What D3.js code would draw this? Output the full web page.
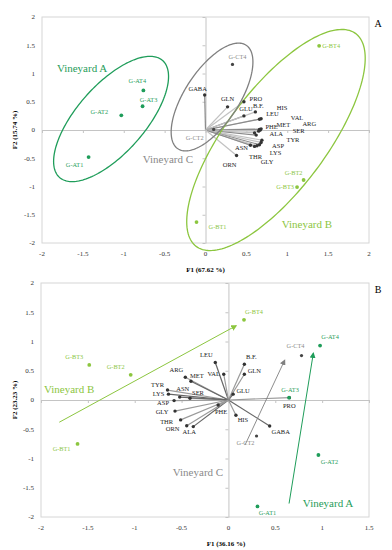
<!DOCTYPE html>
<html>
<head>
<meta charset="utf-8">
<script src="https://cdn.jsdelivr.net/npm/d3@7"></script>
<style>
  body { margin: 0; background: #fff; }
  svg text { font-family: "Liberation Serif", "DejaVu Serif", serif; }
</style>
</head>
<body>
<div id="chart"></div>
<script>
// ---- data ----
var ticksA_x = [-2, -1.5, -1, -0.5, 0, 0.5, 1, 1.5, 2];
var ticksA_y = [-2, -1.5, -1, -0.5, 0, 0.5, 1, 1.5, 2];
var ticksB_x = [-2, -1.5, -1, -0.5, 0, 0.5, 1, 1.5];
var ticksB_y = [-2, -1.5, -1, -0.5, 0, 0.5, 1, 1.5, 2];

var varNames = ["GABA", "GLN", "PRO", "GLU", "B.F.", "HIS", "LEU", "VAL", "ARG", "MET",
                "SER", "PHE", "ALA", "TYR", "ASP", "LYS", "GLY", "THR", "ASN", "ORN"];
var varA_f1 = [-0.01, 0.27, 0.47, 0.47, 0.61, 0.68, 0.66, 0.68, 0.67, 0.66,
               0.65, 0.60, 0.62, 0.69, 0.68, 0.66, 0.63, 0.60, 0.55, 0.38];
var varA_f2 = [0.62, 0.41, 0.50, 0.25, 0.32, 0.20, 0.19, 0.02, 0.00, 0.01,
               -0.02, -0.05, -0.09, -0.18, -0.22, -0.26, -0.28, -0.29, -0.27, -0.45];
var varB_f1 = [0.44, 0.17, 0.65, 0.05, 0.17, 0.08, -0.14, -0.05, -0.46, -0.40,
               -0.41, -0.11, -0.375, -0.65, -0.58, -0.64, -0.57, -0.51, -0.52, -0.445];
var varB_f2 = [-0.445, 0.44, 0.04, 0.10, 0.61, -0.26, 0.64, 0.44, 0.39, 0.32,
               0.03, -0.085, -0.455, 0.17, -0.01, 0.10, -0.19, -0.34, 0.05, -0.44];

var obsNames = ["G-AT1", "G-AT2", "G-AT3", "G-AT4", "G-BT1", "G-BT2", "G-BT3", "G-BT4", "G-CT2", "G-CT4"];
var obsGroup = ["A", "A", "A", "A", "B", "B", "B", "B", "C", "C"];
var obsA_f1 = [-1.43, -1.03, -0.77, -0.76, -0.11, 1.20, 1.12, 1.39, 0.10, 0.33];
var obsA_f2 = [-0.48, 0.26, 0.42, 0.70, -1.63, -0.885, -1.01, 1.49, 0.01, 1.16];
var obsB_f1 = [0.31, 0.96, 0.647, 0.978, -1.61, -1.043, -1.485, 0.166, 0.30, 0.78];
var obsB_f2 = [-1.82, -0.94, 0.04, 0.93, -0.75, 0.43, 0.60, 1.37, -0.615, 0.76];

// vineyard ellipses (panel A): centre and two semi-axis vectors, in F1/F2 units
var groupNames = ["A", "B", "C"];
var ellCenter = [[-1.155, 0.195], [0.862, -0.177], [0.08, 0.584]];
var ellAxisU = [[0.63, 1.035], [0.976, 1.883], [0.417, 0.917]];
var ellAxisV = [[0.312, -0.397], [0.489, -0.531], [0.276, -0.263]];
var groupLabelA = [[-1.51, 1.10], [1.24, -1.66], [-0.46, -0.51]];

// vineyard arrows (panel B)
var arrowFrom = [[0.647, -1.77], [-1.805, -0.38], [0.177, -0.77]];
var arrowTo = [[0.906, 0.80], [0.082, 1.27], [0.60, 0.68]];
var groupLabelB = [[1.063, -1.755], [-1.70, 0.19], [-0.325, -1.23]];

// ---- label nudges (pixels) ----
var varNudgeA = [[-7,-6],[0,-8],[12,-3],[2,-7],[3,-6.5],[21,-11],[13,-6],[36,-11],[49,-6.5],[24,-5],
                 [40,-0.5],[17,-6],[20,-1],[31,0],[17,3],[16,8],[10,16],[1,10],[-9,2],[-7,9]];
var varNudgeB = [[11,6],[10,-4],[0,8],[10,-3],[7,-8],[7,5],[-9,-8],[-10,-1],[-9,-7],[6,-6],
                 [8,-6],[3,7],[-4,5],[-10,-5],[-11,2],[-10,0],[-13,1],[-14,2],[3,-8],[-14,3]];
var obsNudgeA = [[-14,8],[-22,-4],[6,-6],[-6,-10],[21,5],[-10,-7],[-12,0],[12,0],[-19,8],[5,-8]];
var obsNudgeB = [[10,6],[11,7],[1,-8],[10,-9],[-16,5],[-15,-8],[-15,-8],[10,-8],[-11,7],[-6,-10]];

var colors = { A: "#1f9d5a", B: "#8cc63f", C: "#808080" };
var textColors = { A: "#1f9d5a", B: "#8cc63f", C: "#8a8a8a" };

var svg = d3.select("#chart").append("svg")
    .attr("width", 392)
    .attr("height", 550);

var defs = svg.append("defs");
groupNames.forEach(function(g) {
    defs.append("marker")
        .attr("id", "arrow" + g)
        .attr("viewBox", "0 0 10 10")
        .attr("refX", 8).attr("refY", 5)
        .attr("markerWidth", 6).attr("markerHeight", 6)
        .attr("markerUnits", "userSpaceOnUse")
        .attr("orient", "auto")
        .append("path")
        .attr("d", "M0,0 L10,5 L0,10 z")
        .attr("fill", colors[g]);
});

function drawPanel(p) {
    var x = d3.scaleLinear().domain(p.xDomain).range([p.left, p.right]);
    var y = d3.scaleLinear().domain([-2, 2]).range([p.bottom, p.top]);
    var g = svg.append("g");

    // frame
    g.append("rect")
        .attr("x", p.left).attr("y", p.top)
        .attr("width", p.right - p.left).attr("height", p.bottom - p.top)
        .attr("fill", "none").attr("stroke", "#d6d6d6").attr("stroke-width", 1);

    // zero lines with small ticks
    var ax0 = g.append("g").attr("transform", "translate(" + x(0) + ",0)")
        .call(d3.axisLeft(y).tickValues(p.yTicks).tickSize(3).tickSizeOuter(0).tickFormat(""));
    var ay0 = g.append("g").attr("transform", "translate(0," + y(0) + ")")
        .call(d3.axisBottom(x).tickValues(p.xTicks).tickSize(3).tickSizeOuter(0).tickFormat(""));
    [ax0, ay0].forEach(function(a) {
        a.selectAll("path,line").attr("stroke", "#c4c4c4");
    });

    // tick labels
    g.selectAll(".yt").data(p.yTicks).enter().append("text")
        .attr("x", p.left - 7).attr("y", function(d) { return y(d); })
        .attr("dy", "0.35em").attr("text-anchor", "end")
        .attr("font-size", 7).attr("fill", "#333")
        .text(function(d) { return d; });
    g.selectAll(".xt").data(p.xTicks).enter().append("text")
        .attr("x", function(d) { return x(d); }).attr("y", p.bottom + 13)
        .attr("text-anchor", "middle")
        .attr("font-size", 7).attr("fill", "#333")
        .text(function(d) { return d; });

    // axis titles
    g.append("text")
        .attr("x", (p.left + p.right) / 2 + p.titleShift).attr("y", p.bottom + 29)
        .attr("text-anchor", "middle").attr("font-size", 7).attr("font-weight", "bold")
        .text(p.xTitle);
    g.append("text")
        .attr("transform", "translate(17," + ((p.top + p.bottom) / 2) + ") rotate(-90)")
        .attr("text-anchor", "middle").attr("font-size", 7).attr("font-weight", "bold")
        .text(p.yTitle);
    g.append("text")
        .attr("x", 378).attr("y", p.top + 10)
        .attr("text-anchor", "middle").attr("font-size", 10)
        .text(p.letter);

    // variable vectors
    var vars = varNames.map(function(n, i) {
        return { name: n, f1: p.vf1[i], f2: p.vf2[i], nudge: p.vNudge[i] };
    });
    g.selectAll(".vline").data(vars).enter().append("line")
        .attr("x1", x(0)).attr("y1", y(0))
        .attr("x2", function(d) { return x(d.f1); })
        .attr("y2", function(d) { return y(d.f2); })
        .attr("stroke", function(d, i) { return i % 3 == 0 ? p.lineDark : p.lineLight; })
        .attr("stroke-width", 1.2);

    p.extra(g, x, y);

    g.selectAll(".vdot").data(vars).enter().append("circle")
        .attr("cx", function(d) { return x(d.f1); })
        .attr("cy", function(d) { return y(d.f2); })
        .attr("r", 1.7).attr("fill", "#333");
    g.selectAll(".vlab").data(vars).enter().append("text")
        .attr("x", function(d) { return x(d.f1) + d.nudge[0]; })
        .attr("y", function(d) { return y(d.f2) + d.nudge[1]; })
        .attr("dy", "0.35em").attr("text-anchor", "middle")
        .attr("font-size", 6.5).attr("fill", "#222")
        .text(function(d) { return d.name; });

    // observations
    var obs = obsNames.map(function(n, i) {
        return { name: n, grp: obsGroup[i], f1: p.of1[i], f2: p.of2[i], nudge: p.oNudge[i] };
    });
    g.selectAll(".odot").data(obs).enter().append("circle")
        .attr("cx", function(d) { return x(d.f1); })
        .attr("cy", function(d) { return y(d.f2); })
        .attr("r", function(d) { return d.grp == "C" ? 1.6 : 1.9; })
        .attr("fill", function(d) { return d.grp == "C" ? "#444" : colors[d.grp]; });
    g.selectAll(".olab").data(obs).enter().append("text")
        .attr("x", function(d) { return x(d.f1) + d.nudge[0]; })
        .attr("y", function(d) { return y(d.f2) + d.nudge[1]; })
        .attr("dy", "0.35em").attr("text-anchor", "middle")
        .attr("font-size", 6.3)
        .attr("fill", function(d) { return textColors[d.grp]; })
        .text(function(d) { return d.name; });
}

// panel A: ellipses
drawPanel({
    left: 42, right: 369, top: 17, bottom: 243,
    xDomain: [-2, 2], xTicks: ticksA_x, yTicks: ticksA_y,
    xTitle: "F1 (67.62 %)", yTitle: "F2 (15.74 %)", letter: "A", titleShift: 0,
    vf1: varA_f1, vf2: varA_f2, vNudge: varNudgeA,
    of1: obsA_f1, of2: obsA_f2, oNudge: obsNudgeA,
    lineDark: "#8a8a8a", lineLight: "#c2c2c2",
    extra: function(g, x, y) {
        var ts = d3.range(0, 2 * Math.PI + 0.01, Math.PI / 90);
        var line = d3.line().x(function(d) { return x(d[0]); }).y(function(d) { return y(d[1]); });
        groupNames.forEach(function(gn, i) {
            var c = ellCenter[i], u = ellAxisU[i], v = ellAxisV[i];
            var pts = ts.map(function(t) {
                return [c[0] + Math.cos(t) * u[0] + Math.sin(t) * v[0],
                        c[1] + Math.cos(t) * u[1] + Math.sin(t) * v[1]];
            });
            g.append("path").attr("d", line(pts))
                .attr("fill", "none").attr("stroke", colors[gn]).attr("stroke-width", 1.3);
            g.append("text")
                .attr("x", x(groupLabelA[i][0])).attr("y", y(groupLabelA[i][1]))
                .attr("dy", "0.35em").attr("text-anchor", "middle")
                .attr("font-size", 11).attr("fill", textColors[gn])
                .text("Vineyard " + gn);
        });
    }
});

// panel B: arrows
drawPanel({
    left: 41, right: 369, top: 283, bottom: 517,
    xDomain: [-2, 1.5], xTicks: ticksB_x, yTicks: ticksB_y,
    xTitle: "F1 (36.16 %)", yTitle: "F2 (23.23 %)", letter: "B", titleShift: 21,
    vf1: varB_f1, vf2: varB_f2, vNudge: varNudgeB,
    of1: obsB_f1, of2: obsB_f2, oNudge: obsNudgeB,
    lineDark: "#666", lineLight: "#9a9a9a",
    extra: function(g, x, y) {
        groupNames.forEach(function(gn, i) {
            g.append("line")
                .attr("x1", x(arrowFrom[i][0])).attr("y1", y(arrowFrom[i][1]))
                .attr("x2", x(arrowTo[i][0])).attr("y2", y(arrowTo[i][1]))
                .attr("stroke", colors[gn]).attr("stroke-width", gn == "C" ? 0.9 : 1)
                .attr("marker-end", "url(#arrow" + gn + ")");
            g.append("text")
                .attr("x", x(groupLabelB[i][0])).attr("y", y(groupLabelB[i][1]))
                .attr("dy", "0.35em").attr("text-anchor", "middle")
                .attr("font-size", 11).attr("fill", textColors[gn])
                .text("Vineyard " + gn);
        });
    }
});
</script>
</body>
</html>
